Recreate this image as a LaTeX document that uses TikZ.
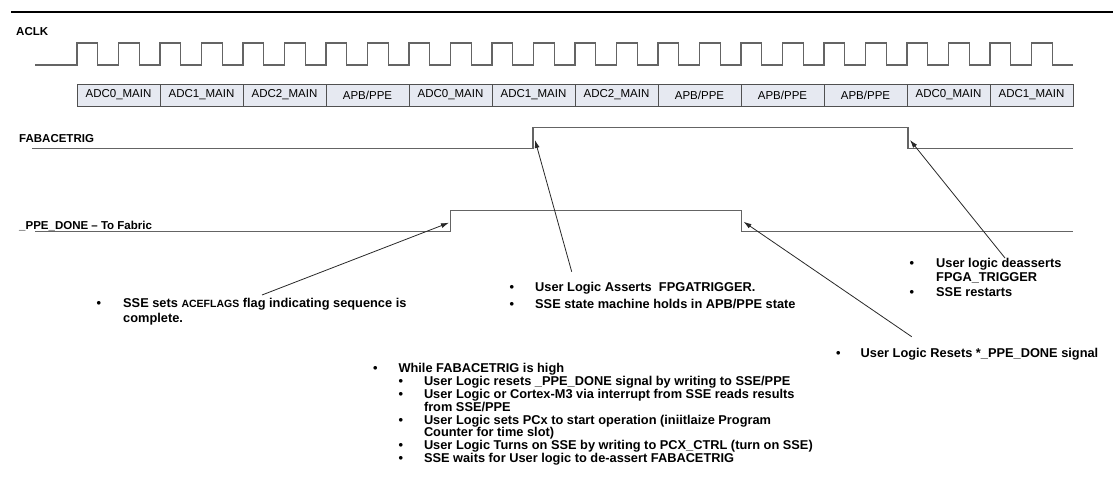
\documentclass[tikz,border=0pt]{standalone}
\usepackage{fontspec}
\setmainfont{Liberation Sans}
\usetikzlibrary{positioning,arrows.meta}
\definecolor{slotfill}{RGB}{230, 233, 241}
\definecolor{wavegray}{RGB}{100, 100, 100}
\definecolor{slotline}{RGB}{80, 80, 80}
\definecolor{arrowink}{RGB}{40, 40, 40}

\begin{document}
\begin{tikzpicture}[
        x=1pt, y=-1pt,
        wave/.style={draw=wavegray, line width=1.3pt},
        slot/.style={
            draw=slotline, fill=slotfill, line width=0.9pt,
            minimum width=83pt, minimum height=22pt,
            inner sep=0pt, outer sep=0pt,
            font=\fontsize{11.5}{12}\selectfont
        },
        siglabel/.style={anchor=base west, inner sep=0pt, font=\fontsize{11.5}{12}\selectfont\bfseries},
        note/.style={anchor=base west, inner sep=0pt, font=\fontsize{12.8}{15}\selectfont\bfseries},
        pointer/.style={draw=arrowink, line width=0.8pt, -{Latex[length=8pt,width=5pt]}}
    ]
    \useasboundingbox (0,0) rectangle (1113,487);

    \draw[line width=2.4pt] (11,12) -- (1113,12);

    \node[siglabel] (aclk) at (16,36) {ACLK};
    \node[siglabel] (fabtrig) at (19,142) {FABACETRIG};
    \node[siglabel] (ppedone) at (19,229.5) {\_PPE\_DONE – To Fabric};

    \draw[wave] (35,65) foreach \k in {0,...,23} {
            -- ({77+41.5*\k},65) -- ++(0,-22) -- ++(20.75,0) -- ++(0,22)
        } -- (1073,65);

    \foreach \lab [count=\i] in {ADC0\_MAIN, ADC1\_MAIN, ADC2\_MAIN, APB/PPE,
            ADC0\_MAIN, ADC1\_MAIN, ADC2\_MAIN, APB/PPE, APB/PPE, APB/PPE,
            ADC0\_MAIN, ADC1\_MAIN}
        \node[slot] (slot\i) at ({35.5+83*\i},95) {\lab};

    \draw[wave] (32,148.3) -- (533,148.3) -- (533,127.7) -- (908,127.7)
        -- (908,148.3) -- (1073,148.3);
    \draw[wave] (35,231.7) -- (450.7,231.7) -- (450.7,210.7) -- (741.7,210.7)
        -- (741.7,231.7) -- (1073,231.7);

    \coordinate (trigup) at (535,140);
    \coordinate (trigdown) at (910,140);
    \coordinate (doneup) at (449,222.7);
    \coordinate (donedown) at (743.5,221.7);

    \node[note] (flagnote) at (96.5,307.6) {%
        \begin{tabular}[t]{@{}p{26.5pt}@{}l@{}}
            \textbullet & SSE sets {\fontsize{10.5}{12}\selectfont ACEFLAGS} flag indicating sequence is\\
                        & complete.
        \end{tabular}};
    \node[note, font=\fontsize{12.8}{16.7}\selectfont\bfseries] (assertnote) at (509.5,291.3) {%
        \begin{tabular}[t]{@{}p{25.5pt}@{}l@{}}
            \textbullet & User Logic Asserts\ \ FPGATRIGGER.\\
            \textbullet & SSE state machine holds in APB/PPE state
        \end{tabular}};
    \node[note, font=\fontsize{12.8}{14.5}\selectfont\bfseries] (deassertnote) at (909.5,267.3) {%
        \begin{tabular}[t]{@{}p{26.5pt}@{}l@{}}
            \textbullet & User logic deasserts\\
                        & FPGA\_TRIGGER\\
            \textbullet & SSE restarts
        \end{tabular}};
    \node[note] (resetnote) at (836,357.6) {%
        \begin{tabular}[t]{@{}p{24.5pt}@{}l@{}}
            \textbullet & User Logic Resets *\_PPE\_DONE signal
        \end{tabular}};
    \node[note, font=\fontsize{12.8}{12.2}\selectfont\bfseries] (whilenote) at (372.8,372.3) {%
        \begin{tabular}[t]{@{}p{25.5pt}@{}p{25.5pt}@{}l@{}}
            \textbullet & \multicolumn{2}{@{}l@{}}{While FABACETRIG is high}\\
                        & \textbullet & User Logic resets \_PPE\_DONE signal by writing to SSE/PPE\\
                        & \textbullet & User Logic or Cortex-M3 via interrupt from SSE reads results\\
                        &             & from SSE/PPE\\
                        & \textbullet & User Logic sets PCx to start operation (iniitlaize Program\\
                        &             & Counter for time slot)\\
                        & \textbullet & User Logic Turns on SSE by writing to PCX\_CTRL (turn on SSE)\\
                        & \textbullet & SSE waits for User logic to de-assert FABACETRIG
        \end{tabular}};

    \coordinate (flagtail) at (262,295);
    \coordinate (asserttail) at (571.7,271.7);
    \coordinate (resettail) at (911.7,336.7);
    \coordinate (deasserttail) at (1005,258);

    \draw[pointer] (flagtail) -- (doneup);
    \draw[pointer] (asserttail) -- (trigup);
    \draw[pointer] (resettail) -- (donedown);
    \draw[pointer] (deasserttail) -- (trigdown);
\end{tikzpicture}
\end{document}
